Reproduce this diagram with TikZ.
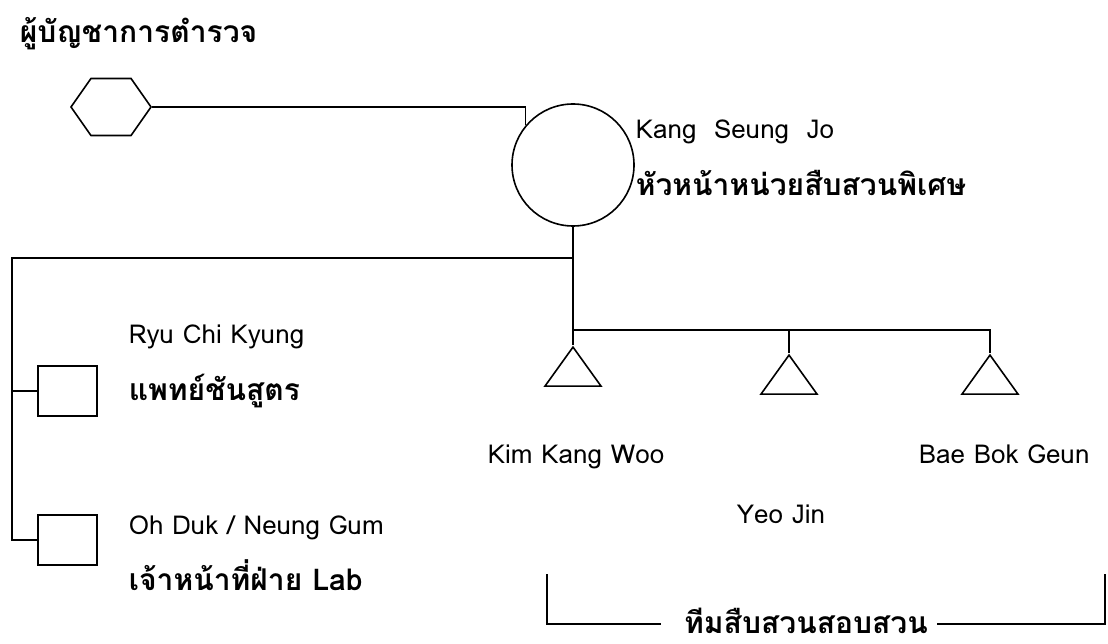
\documentclass[tikz,border=0pt]{standalone}
\usepackage{fontspec}
\setmainfont[Script=Thai]{Loma}
\usetikzlibrary{shapes.geometric,shapes.symbols}

\tikzset{%
	every member/.style={
		draw,
		fill=white,
		inner sep=0pt
	},
	member boss/.style={
		signal,
		signal to=east and west,
		signal pointer angle=110,
		minimum width=80pt,
		minimum height=57pt
	},
	member chief/.style={
		circle,
		minimum size=122pt
	},
	member staff/.style={
		rectangle,
		minimum width=59pt,
		minimum height=50pt
	},
	member agent/.style={
		isosceles triangle,
		isosceles triangle stretches,
		shape border rotate=90,
		minimum width=56pt,
		minimum height=39pt,
		anchor=apex
	},
	name text/.style={
		anchor=base west,
		inner sep=0pt,
		font=\fontsize{26}{30}\selectfont
	},
	role text/.style={
		anchor=base west,
		inner sep=0pt,
		font=\fontsize{30}{34}\selectfont\bfseries
	},
}

\begin{document}
\begin{tikzpicture}[x=1pt, y=-1pt, line width=1.6pt]
	\useasboundingbox (0,0) rectangle (1108,644);
	
	\node [role text] (boss-role) at (19,43) {ผู้บัญชาการตำรวจ};
	\node [every member, member boss] (boss) at (111,107) {};
	
	\node [every member, member chief] (chief) at (573,165) {};
	\node [name text] (chief-name) at (635,139) {Kang\ \ Seung\ \ Jo};
	\node [role text] (chief-role) at (635,196) {หัวหน้าหน่วยสืบสวนพิเศษ};
	
	\node [every member, member staff] (staff-1) at (67.5,391) {};
	\node [every member, member staff] (staff-2) at (67.5,540) {};
	\node [name text] (staff-1-name) at (128,343) {Ryu Chi Kyung};
	\node [role text] (staff-1-role) at (128,400) {แพทย์ชันสูตร};
	\node [name text] (staff-2-name) at (128,534) {Oh Duk / Neung Gum};
	\node [role text] (staff-2-role) at (128,590) {เจ้าหน้าที่ฝ่าย Lab};
	
	\foreach \x/\y [count=\i] in {573/345, 789/353, 990/353}
	\node [every member, member agent] (agent-\i) at (\x,\y) {};
	
	\node [name text] (agent-1-name) at (487,463) {Kim Kang Woo};
	\node [name text] (agent-2-name) at (736,523) {Yeo Jin};
	\node [name text] (agent-3-name) at (918,463) {Bae Bok Geun};
	
	\coordinate (rail) at (12,258);
	\coordinate (team) at (573,330);
	
	\draw (boss.east) -| (chief.140);
	\draw (chief.south) -- (agent-1.apex);
	\draw (chief.south |- rail) -- (rail) |- (staff-2.west);
	\draw (rail |- staff-1.west) -- (staff-1.west);
	\foreach \i in {2,3}
	\draw (team) -| (agent-\i.apex);
	
	% bracket round the team
	\node [role text, anchor=base] (team-role) at (806,633) {ทีมสืบสวนสอบสวน};
	\coordinate (bracket-l) at (547,574);
	\coordinate (bracket-r) at (1105,574);
	\coordinate (gap-l) at (661,624);
	\coordinate (gap-r) at (937,624);
	\draw (bracket-l) |- (gap-l);
	\draw (gap-r) -| (bracket-r);
	
\end{tikzpicture}
\end{document}
